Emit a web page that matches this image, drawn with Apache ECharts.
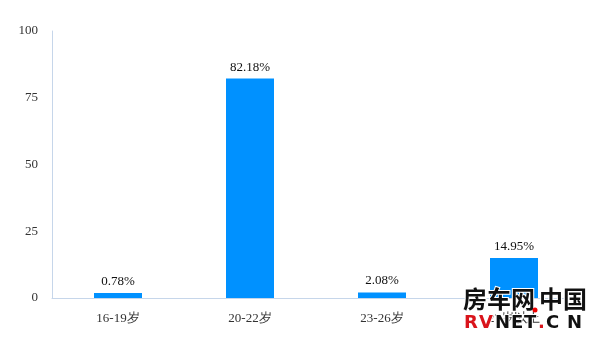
<!DOCTYPE html>
<html><head><meta charset="utf-8">
<script src="https://cdn.jsdelivr.net/npm/echarts@6/dist/echarts.min.js"></script>
<style>html,body{margin:0;padding:0;background:#fff}#c{width:600px;height:340px}</style>
</head><body><div id="c"></div>
<script>
var categories = ['16-19岁', '20-22岁', '23-26岁', '27岁以上'];
var values = [0.78, 82.18, 2.08, 14.95];
var yTicks = [0, 25, 50, 75, 100];

var chart = echarts.init(document.getElementById('c'));
var font = '"Liberation Serif","Times New Roman",serif';
var wmLetters = [['R', 463, '#d9141b'], ['V', 478, '#d9141b'], ['N', 494, '#111'], ['E', 510, '#111'], ['T', 523, '#111'], ['.', 537, '#d9141b'], ['C', 545, '#111'], ['N', 566, '#111']];
var graphics = [
  {type: 'text', left: 462, top: 286, z: 100, style: {text: '房车网', font: 'bold 24px "Noto Sans CJK SC"', fill: '#111', stroke: '#fff', lineWidth: 2}},
  {type: 'text', left: 538, top: 286, z: 100, style: {text: '中国', font: 'bold 24px "Noto Sans CJK SC"', fill: '#111', stroke: '#fff', lineWidth: 2}},
  {type: 'circle', shape: {cx: 535, cy: 310, r: 2.5}, z: 100, style: {fill: '#e00'}}
];
wmLetters.forEach(function (l) {
  graphics.push({type: 'text', left: l[1], top: 313, z: 100, style: {text: l[0], font: 'bold 18px "DejaVu Sans"', fill: l[2], stroke: '#fff', lineWidth: 2}});
});
chart.setOption({
  animation: false,
  grid: {left: 52, right: 20, top: 31, bottom: 42},
  xAxis: {
    type: 'category', data: categories,
    axisLine: {lineStyle: {color: '#c6d6ea', width: 1}},
    axisTick: {show: false},
    axisLabel: {color: '#333', fontSize: 13, fontFamily: font, margin: 14}
  },
  yAxis: {
    type: 'value', min: yTicks[0], max: yTicks[yTicks.length - 1], interval: 25,
    axisLine: {show: true, lineStyle: {color: '#c6d6ea', width: 1}},
    axisTick: {show: false},
    splitLine: {show: false},
    axisLabel: {color: '#333', fontSize: 13, fontFamily: font, margin: 14}
  },
  series: [{
    type: 'bar', data: values, barWidth: 48, barMinHeight: 5,
    itemStyle: {color: '#0091ff'},
    label: {show: true, position: 'top', distance: 5, color: '#111', fontSize: 13, fontFamily: font,
      formatter: function (p) { return p.value.toFixed(2) + '%'; }}
  }],
  graphic: graphics
});
</script></body></html>
